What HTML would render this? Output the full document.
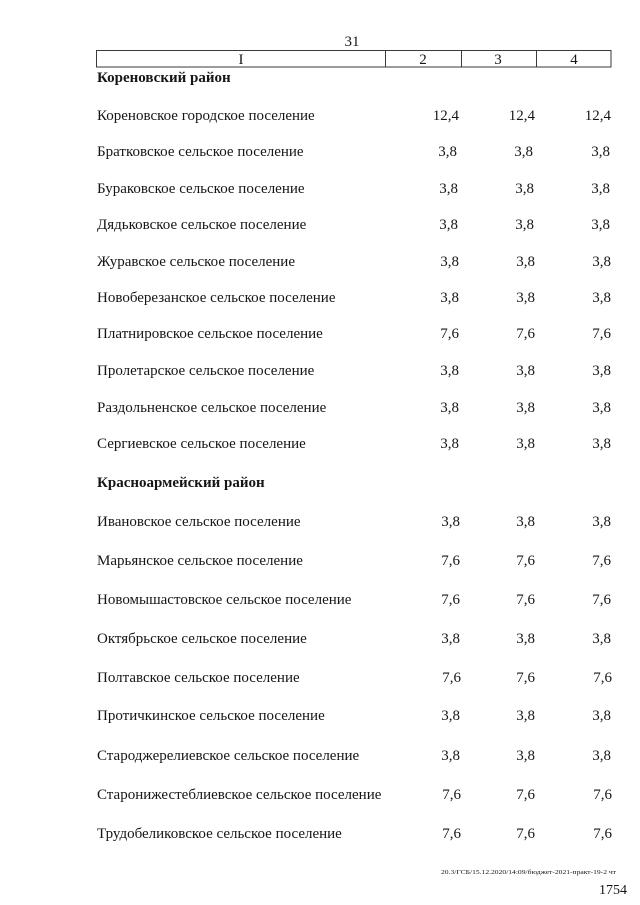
<!DOCTYPE html>
<html>
<head>
<meta charset="utf-8">
<style>
  html, body { margin:0; padding:0; background:#fff; }
  body { width:640px; height:905px; overflow:hidden; }
  svg { display:block; }
  text { font-family: "Liberation Serif", "Noto Serif CJK SC", serif; fill:#161616; }
  .t { font-size:15px; }
  .b { font-size:15px; font-weight:bold; }
  .n { font-size:15px; text-anchor:end; }
  .c { font-size:15px; text-anchor:middle; }
</style>
</head>
<body>
<svg width="640" height="905" viewBox="0 0 640 905" xmlns="http://www.w3.org/2000/svg">
  <rect x="0" y="0" width="640" height="905" fill="#fff"/>
  <text class="c" x="352" y="46">31</text>

  <g stroke="#3a3a3a" stroke-width="1" fill="none">
    <rect x="96.5" y="50.5" width="514.5" height="16.5"/>
    <line x1="385.5" y1="50.5" x2="385.5" y2="67"/>
    <line x1="461.5" y1="50.5" x2="461.5" y2="67"/>
    <line x1="536.5" y1="50.5" x2="536.5" y2="67"/>
  </g>
  <text class="c" x="241" y="64">I</text>
  <text class="c" x="423" y="64">2</text>
  <text class="c" x="498" y="64">3</text>
  <text class="c" x="574" y="64">4</text>

  <text class="b" x="97" y="82">Кореновский район</text>

  <g>
    <text class="t" x="97" y="120">Кореновское городское поселение</text>
    <text class="n" x="459" y="120">12,4</text><text class="n" x="535" y="120">12,4</text><text class="n" x="611" y="120">12,4</text>

    <text class="t" x="97" y="156">Братковское сельское поселение</text>
    <text class="n" x="457" y="156">3,8</text><text class="n" x="533" y="156">3,8</text><text class="n" x="610" y="156">3,8</text>

    <text class="t" x="97" y="193">Бураковское сельское поселение</text>
    <text class="n" x="458" y="193">3,8</text><text class="n" x="534" y="193">3,8</text><text class="n" x="610" y="193">3,8</text>

    <text class="t" x="97" y="229">Дядьковское сельское поселение</text>
    <text class="n" x="458" y="229">3,8</text><text class="n" x="534" y="229">3,8</text><text class="n" x="610" y="229">3,8</text>

    <text class="t" x="97" y="266">Журавское сельское поселение</text>
    <text class="n" x="459" y="266">3,8</text><text class="n" x="535" y="266">3,8</text><text class="n" x="611" y="266">3,8</text>

    <text class="t" x="97" y="302">Новоберезанское сельское поселение</text>
    <text class="n" x="459" y="302">3,8</text><text class="n" x="535" y="302">3,8</text><text class="n" x="611" y="302">3,8</text>

    <text class="t" x="97" y="338">Платнировское сельское поселение</text>
    <text class="n" x="459" y="338">7,6</text><text class="n" x="535" y="338">7,6</text><text class="n" x="611" y="338">7,6</text>

    <text class="t" x="97" y="375">Пролетарское сельское поселение</text>
    <text class="n" x="459" y="375">3,8</text><text class="n" x="535" y="375">3,8</text><text class="n" x="611" y="375">3,8</text>

    <text class="t" x="97" y="412">Раздольненское сельское поселение</text>
    <text class="n" x="459" y="412">3,8</text><text class="n" x="535" y="412">3,8</text><text class="n" x="611" y="412">3,8</text>

    <text class="t" x="97" y="448">Сергиевское сельское поселение</text>
    <text class="n" x="459" y="448">3,8</text><text class="n" x="535" y="448">3,8</text><text class="n" x="611" y="448">3,8</text>
  </g>

  <text class="b" x="97" y="487">Красноармейский район</text>

  <g>
    <text class="t" x="97" y="526">Ивановское сельское поселение</text>
    <text class="n" x="460" y="526">3,8</text><text class="n" x="535" y="526">3,8</text><text class="n" x="611" y="526">3,8</text>

    <text class="t" x="97" y="565">Марьянское сельское поселение</text>
    <text class="n" x="460" y="565">7,6</text><text class="n" x="535" y="565">7,6</text><text class="n" x="611" y="565">7,6</text>

    <text class="t" x="97" y="604">Новомышастовское сельское поселение</text>
    <text class="n" x="460" y="604">7,6</text><text class="n" x="535" y="604">7,6</text><text class="n" x="611" y="604">7,6</text>

    <text class="t" x="97" y="643">Октябрьское сельское поселение</text>
    <text class="n" x="460" y="643">3,8</text><text class="n" x="535" y="643">3,8</text><text class="n" x="611" y="643">3,8</text>

    <text class="t" x="97" y="682">Полтавское сельское поселение</text>
    <text class="n" x="461" y="682">7,6</text><text class="n" x="535" y="682">7,6</text><text class="n" x="612" y="682">7,6</text>

    <text class="t" x="97" y="720">Протичкинское сельское поселение</text>
    <text class="n" x="460" y="720">3,8</text><text class="n" x="535" y="720">3,8</text><text class="n" x="611" y="720">3,8</text>

    <text class="t" x="97" y="760">Староджерелиевское сельское поселение</text>
    <text class="n" x="460" y="760">3,8</text><text class="n" x="535" y="760">3,8</text><text class="n" x="611" y="760">3,8</text>

    <text class="t" x="97" y="799">Старонижестеблиевское сельское поселение</text>
    <text class="n" x="461" y="799">7,6</text><text class="n" x="535" y="799">7,6</text><text class="n" x="612" y="799">7,6</text>

    <text class="t" x="97" y="838">Трудобеликовское сельское поселение</text>
    <text class="n" x="461" y="838">7,6</text><text class="n" x="535" y="838">7,6</text><text class="n" x="612" y="838">7,6</text>
  </g>

  <text x="441" y="874" font-size="6.4" textLength="175" lengthAdjust="spacingAndGlyphs">20.3/ГСБ/15.12.2020/14:09/бюджет-2021-практ-19-2 чт</text>
  <text x="627" y="894" font-size="14" text-anchor="end">1754</text>
</svg>
</body>
</html>
